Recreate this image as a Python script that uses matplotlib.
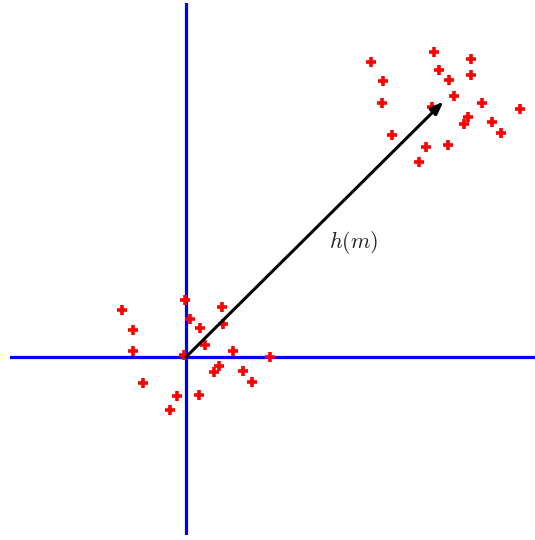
import matplotlib
matplotlib.use("Agg")
import matplotlib.pyplot as plt
import numpy as np

plt.rcParams['mathtext.fontset'] = 'cm'

# cluster near the origin
x_low = [-1.28, -1.06, -1.06, -0.02, 0.08, 0.27, 0.71, 0.73, 0.37, -0.05,
         0.93, 1.68, 0.65, 0.56, 1.13, 1.31, -0.87, -0.18, 0.25, -0.32]
y_low = [0.94, 0.54, 0.12, 1.14, 0.76, 0.58, 1.01, 0.67, 0.24, 0.04,
         0.12, 0.00, -0.17, -0.30, -0.27, -0.49, -0.51, -0.77, -0.75, -1.06]

# shifted cluster
x_high = [3.69, 3.93, 3.91, 4.95, 5.06, 5.25, 5.69, 5.70, 5.35, 4.91,
          5.91, 6.67, 5.63, 5.55, 6.11, 6.29, 4.11, 4.80, 5.23, 4.66]
y_high = [5.91, 5.52, 5.09, 6.11, 5.74, 5.54, 5.97, 5.64, 5.23, 5.01,
          5.09, 4.97, 4.81, 4.67, 4.69, 4.49, 4.45, 4.21, 4.23, 3.91]

arrow_end = (5.15, 5.11)
label_pos = (3.36, 2.28)

fig = plt.figure(figsize=(5.35, 5.40), dpi=100)
ax = fig.add_axes([10 / 535, 5 / 540, 525 / 535, 532 / 540])

ax.axhline(0, color='#0000ff', lw=2.3, zorder=1)
ax.axvline(0, color='#0000ff', lw=2.3, zorder=1)

ax.plot(x_low, y_low, '+', color='red', ms=7, mew=2.6, zorder=2, ls='none')
ax.plot(x_high, y_high, '+', color='red', ms=7, mew=2.6, zorder=2, ls='none')

ax.annotate('', xy=arrow_end, xytext=(0, 0),
            arrowprops=dict(arrowstyle='-|>,head_length=0.75,head_width=0.28',
                            lw=2.2, color='black', shrinkA=0, shrinkB=0),
            zorder=3)
ax.text(label_pos[0], label_pos[1], '$h(m)$', fontsize=16,
        ha='center', va='center', color='#222222')

ax.set_xlim(-3.52, 6.98)
ax.set_ylim(-3.56, 7.08)
ax.axis('off')

fig.savefig('out.png', dpi=100)
